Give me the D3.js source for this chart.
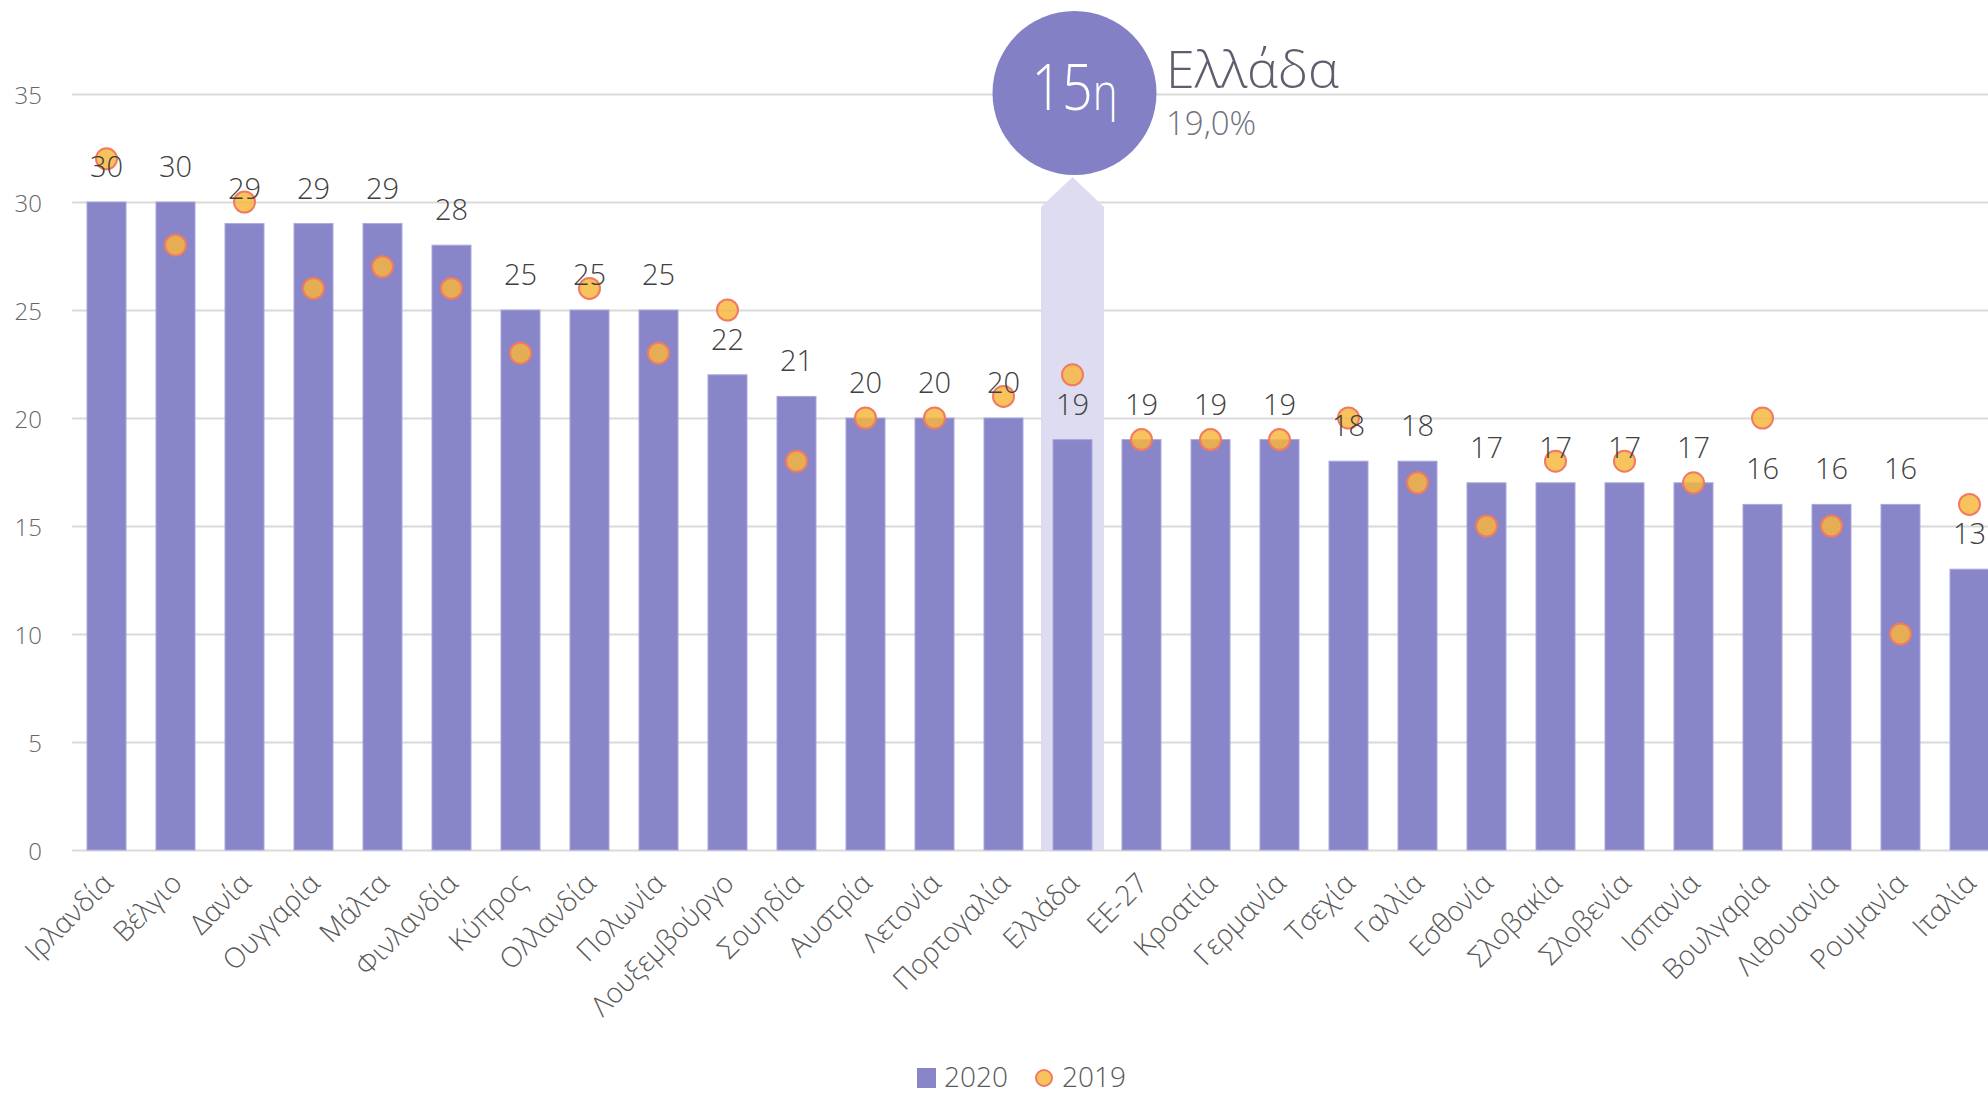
<!DOCTYPE html>
<html>
<head>
<meta charset="utf-8">
<script src="https://cdn.jsdelivr.net/npm/d3@7"></script>
<style>
  body { margin: 0; background: #fff; }
  text { font-family: "Open Sans", sans-serif; }
</style>
</head>
<body>
<svg id="chart" width="1988" height="1094"></svg>
<script>
// data
var countries = ["Ιρλανδία","Βέλγιο","Δανία","Ουγγαρία","Μάλτα","Φινλανδία","Κύπρος","Ολλανδία","Πολωνία","Λουξεμβούργο","Σουηδία","Αυστρία","Λετονία","Πορτογαλία","Ελλάδα","ΕΕ-27","Κροατία","Γερμανία","Τσεχία","Γαλλία","Εσθονία","Σλοβακία","Σλοβενία","Ισπανία","Βουλγαρία","Λιθουανία","Ρουμανία","Ιταλία"];
var values2020 = [30,30,29,29,29,28,25,25,25,22,21,20,20,20,19,19,19,19,18,18,17,17,17,17,16,16,16,13];
var values2019 = [32,28,30,26,27,26,23,26,23,25,18,20,20,21,22,19,19,19,20,17,15,18,18,17,20,15,10,16];
var yTicks = [0,5,10,15,20,25,30,35];
var seriesNames = ["2020","2019"];
var highlightCountry = "Ελλάδα";
var highlightRank = "15";
var highlightValue = "19,0%";

var svg = d3.select("#chart");
var W = 1988, H = 1094;
var plotLeft = 72, plotBottom = 850, plotTop = 94;

var x = d3.scaleBand().domain(countries).range([plotLeft, plotLeft + 28 * 69]).paddingInner(0.435).paddingOuter(0.2175);
var y = d3.scaleLinear().domain([0, 35]).range([plotBottom, plotTop]);

var barColor = "#8886c9";

// gridlines + y labels
var yAxis = svg.append("g").attr("transform", "translate(" + plotLeft + ",0)")
  .call(d3.axisLeft(y).tickValues(yTicks).tickSize(-(W - plotLeft)).tickPadding(30));
yAxis.select(".domain").remove();
yAxis.selectAll("line").attr("stroke", "#d9d9d9").attr("stroke-width", 2);
yAxis.selectAll("text").attr("fill", "#666").attr("font-size", 24).attr("font-weight", 300).attr("dy", "0.38em");

// highlight column for Greece
var hx = x(highlightCountry) + x.bandwidth() / 2;
var hw = 31.5;
svg.append("path")
  .attr("d", "M" + (hx - hw) + "," + plotBottom + "V" + (y(30) + 5) + "L" + hx + "," + (y(30) - 25) + "L" + (hx + hw) + "," + (y(30) + 5) + "V" + plotBottom + "Z")
  .attr("fill", "#dedcf0");

// bars 2020
svg.append("g").selectAll("rect").data(countries).join("rect")
  .attr("x", function (d) { return x(d); })
  .attr("y", function (d, i) { return y(values2020[i]); })
  .attr("width", x.bandwidth())
  .attr("height", function (d, i) { return plotBottom - y(values2020[i]); })
  .attr("fill", barColor)
  .attr("stroke", "#a9a7dc").attr("stroke-width", 1);

// dots 2019
svg.append("g").selectAll("circle").data(countries).join("circle")
  .attr("cx", function (d) { return x(d) + x.bandwidth() / 2; })
  .attr("cy", function (d, i) { return y(values2019[i]); })
  .attr("r", 10.5)
  .attr("fill", "rgb(247,182,62)").attr("fill-opacity", 0.84)
  .attr("stroke", "#f07a62").attr("stroke-width", 2);

// value labels
svg.append("g").selectAll("text").data(countries).join("text")
  .attr("x", function (d) { return x(d) + x.bandwidth() / 2; })
  .attr("y", function (d, i) { return y(values2020[i]) - 25; })
  .attr("text-anchor", "middle")
  .attr("font-size", 29).attr("font-weight", 300).attr("fill", "#404040")
  .text(function (d, i) { return values2020[i]; });

// x axis labels
var xAxis = svg.append("g").attr("transform", "translate(0," + plotBottom + ")")
  .call(d3.axisBottom(x).tickSize(0));
xAxis.select(".domain").remove();
xAxis.selectAll("text")
  .attr("x", 0).attr("y", 0).attr("dy", 0)
  .attr("transform", "translate(8,35) rotate(-45)")
  .attr("text-anchor", "end")
  .attr("font-size", 28).attr("font-weight", 300).attr("fill", "#595959");

// badge
svg.append("circle").attr("cx", hx + 2).attr("cy", 93).attr("r", 82).attr("fill", "#8380c6");
var badge = svg.append("text")
  .attr("transform", "translate(" + (hx + 2) + ",110) scale(0.84,1)")
  .attr("text-anchor", "middle").attr("fill", "#fff").attr("font-weight", 300);
badge.append("tspan").attr("font-size", 64).text(highlightRank);
badge.append("tspan").attr("font-size", 50).text("η");

svg.append("text").attr("x", 1166).attr("y", 88)
  .attr("font-size", 52).attr("font-weight", 300).attr("fill", "#5f5e6e")
  .text(highlightCountry);
svg.append("text").attr("x", 1166).attr("y", 135)
  .attr("font-size", 33).attr("font-weight", 300).attr("fill", "#72717e")
  .text(highlightValue);

// legend
var lg = svg.append("g");
lg.append("rect").attr("x", 917).attr("y", 1068).attr("width", 19).attr("height", 20).attr("fill", barColor);
lg.append("text").attr("x", 944).attr("y", 1087).attr("font-size", 28).attr("font-weight", 300).attr("fill", "#595959").text(seriesNames[0]);
lg.append("circle").attr("cx", 1044).attr("cy", 1078).attr("r", 8)
  .attr("fill", "rgb(247,182,62)").attr("fill-opacity", 0.84).attr("stroke", "#f07a62").attr("stroke-width", 2);
lg.append("text").attr("x", 1062).attr("y", 1087).attr("font-size", 28).attr("font-weight", 300).attr("fill", "#595959").text(seriesNames[1]);
</script>
</body>
</html>
